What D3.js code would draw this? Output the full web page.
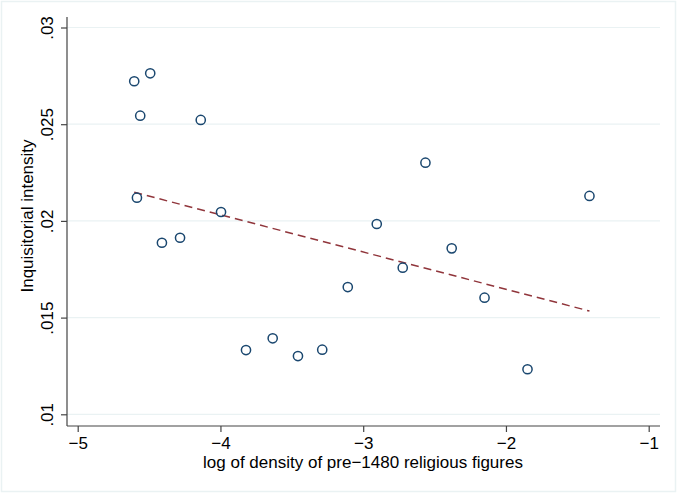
<!DOCTYPE html>
<html><head><meta charset="utf-8">
<script src="https://cdn.jsdelivr.net/npm/d3@7"></script>
<style>body{margin:0;background:#fff}svg{display:block}text{font-family:"Liberation Sans",Arial,Helvetica,sans-serif;fill:#000}</style>
</head><body><div id="chart"></div>
<script>
const xValues = [-4.604,-4.492,-4.562,-4.138,-4.585,-3.996,-4.410,-4.283,-2.564,-1.415,-2.905,-2.380,-2.723,-3.108,-2.150,-1.849,-3.821,-3.634,-3.457,-3.287];
const yValues = [0.02722,0.02763,0.02544,0.02522,0.02120,0.02046,0.01887,0.01913,0.02301,0.02129,0.01984,0.01858,0.01758,0.01658,0.01603,0.01233,0.01332,0.01393,0.01301,0.01334];
const fitX = [-4.604,-1.415];
const fitY = [0.02148,0.01534];
const xTicks = [-5,-4,-3,-2,-1];
const xTickLabels = ["\u22125","\u22124","\u22123","\u22122","\u22121"];
const yTicks = [0.01,0.015,0.02,0.025,0.03];
const yTickLabels = [".01",".015",".02",".025",".03"];
const xTitle = "log of density of pre\u22121480 religious figures";
const yTitle = "Inquisitorial intensity";

const W = 677, H = 493, FS = 17;
const svg = d3.select("#chart").append("svg").attr("width", W).attr("height", H);
svg.append("rect").attr("x",1.5).attr("y",1.5).attr("width",W-3).attr("height",H-3)
  .attr("fill","#fff").attr("stroke","#eaf2f3").attr("stroke-width",1.5);

const x = d3.scaleLinear().domain([-5,-1]).range([77.7,648.7]);
const y = d3.scaleLinear().domain([0.01,0.03]).range([414.3,27.5]);
const axL = 67, axB = 426, axR = 660, axT = 17;

// gridlines
svg.append("g").selectAll("line").data(yTicks).join("line")
  .attr("x1",axL).attr("x2",axR).attr("y1",d=>y(d)).attr("y2",d=>y(d))
  .attr("stroke","#eaf2f3").attr("stroke-width",1.2);

// y axis
const ya = svg.append("g").attr("transform",`translate(${axL},0)`)
  .call(d3.axisLeft(y).tickValues(yTicks).tickFormat((d,i)=>yTickLabels[i]).tickSize(6).tickSizeOuter(0).tickPadding(5));
ya.select(".domain").attr("d",`M0,${axT}V${axB}`).attr("stroke","#444").attr("stroke-width",1.2);
ya.selectAll(".tick line").attr("stroke","#444").attr("stroke-width",1.2);
ya.selectAll(".tick text").attr("font-size",FS).attr("font-family","Liberation Sans, Arial, sans-serif")
  .attr("transform","rotate(-90)").attr("x",0).attr("y",-14).attr("dy","0")
  .attr("text-anchor","middle").attr("fill","#000");

// x axis
const xa = svg.append("g").attr("transform",`translate(0,${axB})`)
  .call(d3.axisBottom(x).tickValues(xTicks).tickFormat((d,i)=>xTickLabels[i]).tickSize(6).tickSizeOuter(0).tickPadding(4));
xa.select(".domain").attr("d",`M${axL},0H${axR}`).attr("stroke","#444").attr("stroke-width",1.2);
xa.selectAll(".tick line").attr("stroke","#444").attr("stroke-width",1.2);
xa.selectAll(".tick text").attr("font-size",FS).attr("font-family","Liberation Sans, Arial, sans-serif")
  .attr("y",23).attr("dy","0").attr("fill","#000");

// titles
svg.append("text").attr("x",363).attr("y",468).attr("text-anchor","middle").attr("font-size",FS).text(xTitle);
svg.append("text").attr("transform","translate(33,216) rotate(-90)").attr("text-anchor","middle").attr("font-size",FS).text(yTitle);

// fit line
svg.append("path").datum(fitX.map((d,i)=>[d,fitY[i]]))
  .attr("d",d3.line().x(d=>x(d[0])).y(d=>y(d[1])))
  .attr("fill","none").attr("stroke","#90353b").attr("stroke-width",1.5).attr("stroke-dasharray","8,5");

// points
svg.append("g").selectAll("circle").data(xValues.map((d,i)=>[d,yValues[i]])).join("circle")
  .attr("cx",d=>x(d[0])).attr("cy",d=>y(d[1])).attr("r",4.6)
  .attr("fill","none").attr("stroke","#1a476f").attr("stroke-width",1.5);
</script></body></html>
